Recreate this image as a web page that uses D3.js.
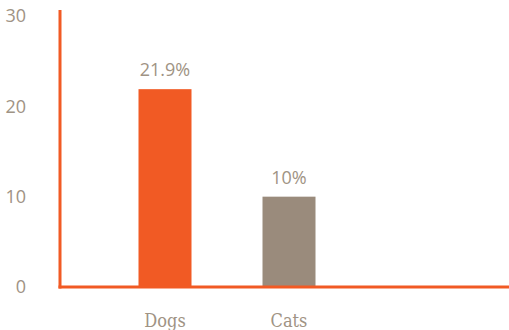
<!DOCTYPE html>
<html>
<head>
<meta charset="utf-8">
<script src="https://cdn.jsdelivr.net/npm/d3@7"></script>
<style>
  html, body { margin: 0; padding: 0; background: #fff; }
  svg { display: block; }
</style>
</head>
<body>
<svg id="chart" width="509" height="330"></svg>
<script>
// Share of pets, by kind
const categories = ["Dogs", "Cats"];
const values = [21.9, 10];
const valueLabels = ["21.9%", "10%"];
const yTicks = [0, 10, 20, 30];
const barColors = ["#f15a24", "#9a8b7c"];

const svg = d3.select("#chart");
const axisColor = "#f15a24";
const textColor = "#a09384";

const x = d3.scaleBand()
  .domain(categories)
  .range([103, 351]);

const y = d3.scaleLinear()
  .domain([0, 30])
  .range([287, 16]);

const barW = 53;

// bars
svg.selectAll("rect.bar")
  .data(categories)
  .enter().append("rect")
  .attr("class", "bar")
  .attr("x", d => x(d) + x.bandwidth() / 2 - barW / 2)
  .attr("y", (d, i) => y(values[i]))
  .attr("width", barW)
  .attr("height", (d, i) => y(0) - y(values[i]))
  .attr("fill", (d, i) => barColors[i]);

// value labels
svg.selectAll("text.val")
  .data(categories)
  .enter().append("text")
  .attr("class", "val")
  .attr("x", d => x(d) + x.bandwidth() / 2)
  .attr("y", (d, i) => y(values[i]) - 13)
  .attr("text-anchor", "middle")
  .attr("font-family", "'Open Sans', sans-serif")
  .attr("font-size", 18)
  .attr("fill", textColor)
  .text((d, i) => valueLabels[i]);

// category labels
svg.selectAll("text.cat")
  .data(categories)
  .enter().append("text")
  .attr("class", "cat")
  .attr("x", d => x(d) + x.bandwidth() / 2)
  .attr("y", 327)
  .attr("text-anchor", "middle")
  .attr("font-family", "'DejaVu Serif Condensed', 'DejaVu Serif', serif")
  .attr("font-stretch", "condensed")
  .attr("font-size", 18)
  .attr("fill", textColor)
  .text(d => d);

// y tick labels
svg.selectAll("text.ytick")
  .data(yTicks)
  .enter().append("text")
  .attr("class", "ytick")
  .attr("x", 26)
  .attr("y", d => y(d))
  .attr("dy", "0.35em")
  .attr("text-anchor", "end")
  .attr("font-family", "'Open Sans', sans-serif")
  .attr("font-size", 18)
  .attr("fill", textColor)
  .text(d => d);

// axis lines
svg.append("line")
  .attr("x1", 60).attr("x2", 60)
  .attr("y1", y(30) - 6).attr("y2", y(0) + 1.5)
  .attr("stroke", axisColor).attr("stroke-width", 3);
svg.append("line")
  .attr("x1", 58.5).attr("x2", 509)
  .attr("y1", y(0)).attr("y2", y(0))
  .attr("stroke", axisColor).attr("stroke-width", 3);
</script>
</body>
</html>
